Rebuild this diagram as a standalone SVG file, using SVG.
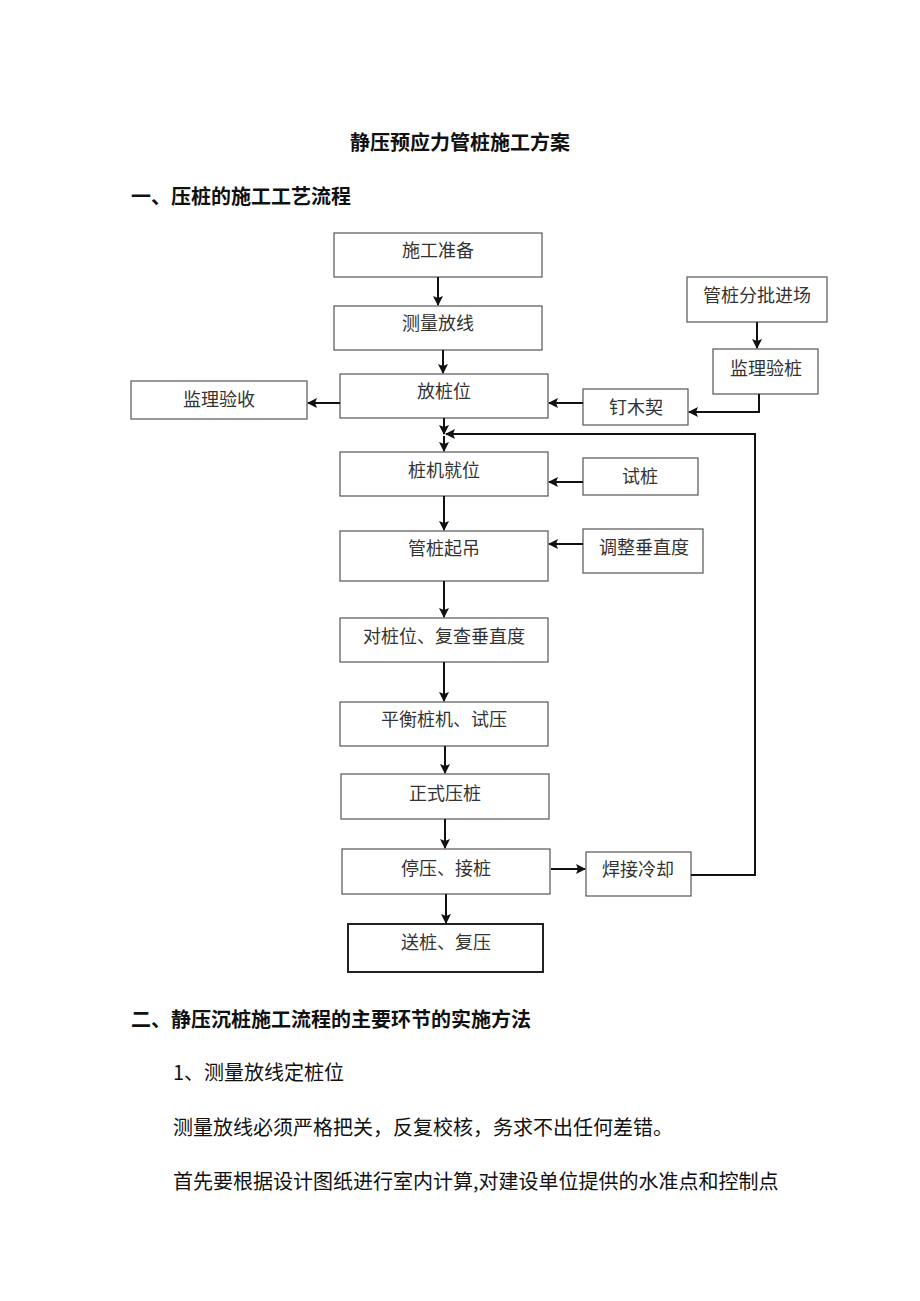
<svg xmlns="http://www.w3.org/2000/svg" width="920" height="1301" viewBox="0 0 920 1301">
<style>
.bg{fill:#fff}
.box rect{fill:#fff;stroke:#555;stroke-width:1.2}
.box text{font-family:"Liberation Serif","Noto Sans CJK SC",serif;font-size:18px;fill:#333;text-anchor:middle;dominant-baseline:central}
.h{font-family:"Noto Sans CJK SC",sans-serif;font-size:20px;font-weight:bold;fill:#111}
.p{font-family:"Noto Sans CJK SC",sans-serif;font-size:20px;fill:#111}
.conn path{fill:none;stroke:#111;stroke-width:2}
</style>
<defs>
<marker id="ah" markerUnits="userSpaceOnUse" markerWidth="10" markerHeight="10" refX="9" refY="5" orient="auto">
<path d="M0,0 L10,5 L0,10 L2,5 z" fill="#111"/>
</marker>
</defs>
<rect class="bg" x="0" y="0" width="920" height="1301"/>

<text class="h" x="460" y="150" text-anchor="middle">静压预应力管桩施工方案</text>
<text class="h" x="131" y="204">一、压桩的施工工艺流程</text>

<g id="n1" class="box"><rect x="334" y="233" width="208" height="44"/><text x="438" y="251">施工准备</text></g>
<g id="n2" class="box"><rect x="334" y="306" width="208" height="44"/><text x="438" y="324">测量放线</text></g>
<g id="n3" class="box"><rect x="340" y="374" width="208" height="44"/><text x="444" y="392">放桩位</text></g>
<g id="n4" class="box"><rect x="131" y="381" width="176" height="38"/><text x="219" y="400">监理验收</text></g>
<g id="n5" class="box"><rect x="583" y="389" width="105" height="36"/><text x="636" y="408">钉木契</text></g>
<g id="n6" class="box"><rect x="687" y="277" width="140" height="45"/><text x="757" y="296">管桩分批进场</text></g>
<g id="n7" class="box"><rect x="713" y="349" width="105" height="45"/><text x="766" y="369">监理验桩</text></g>
<g id="n8" class="box"><rect x="340" y="452" width="208" height="44"/><text x="444" y="471">桩机就位</text></g>
<g id="n9" class="box"><rect x="583" y="458" width="115" height="37"/><text x="640" y="477">试桩</text></g>
<g id="n10" class="box"><rect x="340" y="531" width="208" height="50"/><text x="444" y="549">管桩起吊</text></g>
<g id="n11" class="box"><rect x="583" y="529" width="120" height="44"/><text x="644" y="548">调整垂直度</text></g>
<g id="n12" class="box"><rect x="340" y="618" width="208" height="44"/><text x="444" y="637">对桩位、复查垂直度</text></g>
<g id="n13" class="box"><rect x="340" y="702" width="208" height="44"/><text x="444" y="720">平衡桩机、试压</text></g>
<g id="n14" class="box"><rect x="341" y="774" width="208" height="45"/><text x="445" y="794">正式压桩</text></g>
<g id="n15" class="box"><rect x="342" y="849" width="208" height="45"/><text x="446" y="869">停压、接桩</text></g>
<g id="n16" class="box"><rect x="586" y="852" width="105" height="44"/><text x="638" y="870">焊接冷却</text></g>
<g id="n17" class="box"><rect x="348" y="924" width="195" height="48" style="stroke:#222;stroke-width:2"/><text x="446" y="943">送桩、复压</text></g>

<g id="connectors" class="conn">
<path d="M438,277 V305" marker-end="url(#ah)"/>
<path d="M443,350 V373" marker-end="url(#ah)"/>
<path d="M444,418 V434" marker-end="url(#ah)"/>
<path d="M444,436 V451" marker-end="url(#ah)"/>
<path d="M340,403 H308" marker-end="url(#ah)"/>
<path d="M583,403 H549" marker-end="url(#ah)"/>
<path d="M757,322 V348" marker-end="url(#ah)"/>
<path d="M759,394 V412 H689" marker-end="url(#ah)"/>
<path d="M583,482 H549" marker-end="url(#ah)"/>
<path d="M444,496 V530" marker-end="url(#ah)"/>
<path d="M583,544 H549" marker-end="url(#ah)"/>
<path d="M444,581 V617" marker-end="url(#ah)"/>
<path d="M444,662 V701" marker-end="url(#ah)"/>
<path d="M445,746 V773" marker-end="url(#ah)"/>
<path d="M445,819 V848" marker-end="url(#ah)"/>
<path d="M446,894 V923" marker-end="url(#ah)"/>
<path d="M551,869 H585" marker-end="url(#ah)"/>
<path d="M691,875 H755 V434 H446" marker-end="url(#ah)"/>
</g>

<text class="h" x="131" y="1027">二、静压沉桩施工流程的主要环节的实施方法</text>
<text class="p" x="173" y="1080">1、测量放线定桩位</text>
<text class="p" x="173" y="1135">测量放线必须严格把关，反复校核，务求不出任何差错。</text>
<text class="p" x="173" y="1189">首先要根据设计图纸进行室内计算,对建设单位提供的水准点和控制点</text>
</svg>
